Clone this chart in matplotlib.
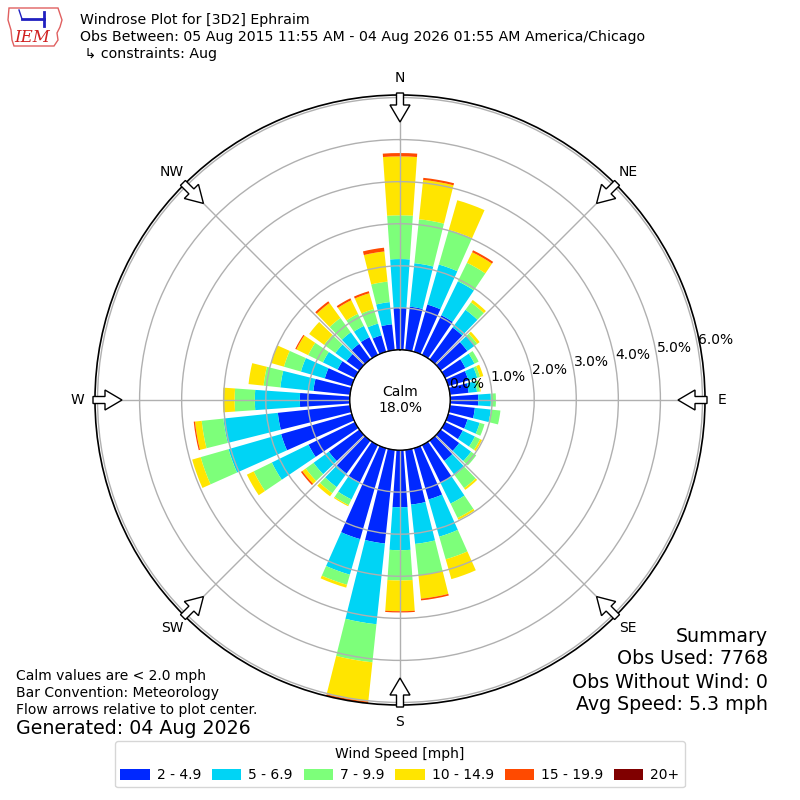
import numpy as np
import matplotlib
matplotlib.use("Agg")
import matplotlib.pyplot as plt
from matplotlib.patches import FancyArrow, Polygon, Patch

# wind direction bins (deg, meteorological) and % frequency per speed bin
directions = np.arange(0, 360, 10)
spd_2_5 = [1.00, 1.04, 1.17, 1.05, 0.94, 0.79, 0.54, 0.50, 0.45, 0.67, 0.60, 0.48,
           0.47, 0.55, 0.60, 1.00, 1.27, 1.31, 1.36, 2.24, 2.25, 0.99, 0.97, 0.90,
           1.23, 1.75, 1.73, 1.19, 0.88, 0.67, 0.46, 0.38, 0.46, 0.47, 0.41, 0.62]
spd_5_7 = [1.16, 1.04, 0.99, 0.90, 0.52, 0.21, 0.24, 0.22, 0.20, 0.30, 0.38, 0.30,
           0.32, 0.35, 0.42, 0.55, 0.92, 0.94, 1.02, 1.93, 0.88, 0.45, 0.40, 0.45,
           0.97, 1.30, 1.30, 1.07, 0.79, 0.59, 0.39, 0.33, 0.34, 0.30, 0.29, 0.53]
spd_7_10 = [1.04, 1.05, 0.86, 0.49, 0.22, 0.08, 0.11, 0.07, 0.07, 0.12, 0.23, 0.12,
            0.14, 0.15, 0.38, 0.38, 0.56, 0.75, 0.72, 0.91, 0.25, 0.15, 0.18, 0.23,
            0.48, 0.69, 0.52, 0.48, 0.40, 0.42, 0.39, 0.33, 0.42, 0.32, 0.36, 0.49]
spd_10_15 = [1.40, 0.94, 0.73, 0.28, 0.07, 0.07, 0.00, 0.08, 0.02, 0.00, 0.00, 0.00,
             0.05, 0.00, 0.05, 0.05, 0.49, 0.56, 0.73, 0.94, 0.07, 0.03, 0.09, 0.10,
             0.18, 0.21, 0.16, 0.28, 0.36, 0.32, 0.31, 0.44, 0.44, 0.36, 0.39, 0.72]
spd_15_20 = [0.08, 0.05, 0.00, 0.05, 0.00, 0.00, 0.00, 0.00, 0.00, 0.00, 0.00, 0.00,
             0.00, 0.00, 0.00, 0.00, 0.00, 0.04, 0.03, 0.04, 0.00, 0.00, 0.00, 0.04,
             0.00, 0.00, 0.03, 0.00, 0.00, 0.00, 0.03, 0.00, 0.05, 0.05, 0.05, 0.09]
spd_20p = [0.0] * 36

speed_bins = [spd_2_5, spd_5_7, spd_7_10, spd_10_15, spd_15_20, spd_20p]
bin_labels = ["2 - 4.9", "5 - 6.9", "7 - 9.9", "10 - 14.9", "15 - 19.9", "20+"]
bin_colors = ["#0028ff", "#00d4f5", "#7dff7a", "#ffe500", "#ff4a00", "#800000"]
calm_pct = 18.0

fig = plt.figure(figsize=(8, 8), dpi=100)
ax = fig.add_axes([95 / 800, 95 / 800, 610 / 800, 610 / 800], projection="polar")
ax.set_theta_zero_location("N")
ax.set_theta_direction(-1)

theta = np.radians(directions)
bottom = np.zeros(36)
for vals, col in zip(speed_bins, bin_colors):
    vals = np.array(vals)
    ax.bar(theta, vals, width=np.radians(8), bottom=bottom, color=col,
           edgecolor="none", linewidth=0)
    bottom += vals

rmax = bottom.max()
ax.set_rorigin(-1.19)
ax.set_ylim(0, rmax)
ax.set_yticks(range(0, 7))
ax.set_yticklabels(["%.1f%%" % v for v in range(0, 7)], fontsize=10)
ax.set_rlabel_position(80)
ax.set_thetagrids(range(0, 360, 45), ["N", "NE", "E", "SE", "S", "SW", "W", "NW"],
                  fontsize=10)
ax.tick_params(axis="x", pad=2)
ax.grid(color="#b0b0b0", linewidth=1)
ax.spines["polar"].set_linewidth(1.2)
ax.spines["inner"].set_visible(False)

# calm circle
tt = np.linspace(0, 2 * np.pi, 361)
ax.plot(tt, np.zeros_like(tt), color="black", linewidth=1.2)
ax.text(0.5, 0.5, "Calm\n%.1f%%" % calm_pct, transform=ax.transAxes,
        ha="center", va="center", fontsize=10)

# flow arrows at the compass points
for a in range(0, 360, 45):
    ar = np.radians(a)
    ux, uy = np.sin(ar), np.cos(ar)
    r0 = 307 / 800
    length = 29 / 800
    fig.add_artist(FancyArrow(0.5 + r0 * ux, 0.5 + r0 * uy, -length * ux, -length * uy,
                              width=7 / 800, head_width=20 / 800, head_length=17 / 800,
                              length_includes_head=True, transform=fig.transFigure,
                              facecolor="white", edgecolor="black", linewidth=1))

# logo
iowa = [(9, 8), (58, 8), (60, 14), (62, 20), (60, 27), (57, 33), (58, 40), (54, 46),
        (14, 46), (12, 40), (11, 30), (8, 20)]
fig.add_artist(Polygon([(x / 800, 1 - y / 800) for x, y in iowa], closed=True,
                       transform=fig.transFigure, facecolor="white",
                       edgecolor="#e06060", linewidth=1))
fig.add_artist(plt.Line2D([22 / 800, 44 / 800], [1 - 19 / 800, 1 - 19 / 800],
                          transform=fig.transFigure, color="#2020c0", linewidth=2))
fig.add_artist(plt.Line2D([44 / 800, 44 / 800], [1 - 12 / 800, 1 - 26 / 800],
                          transform=fig.transFigure, color="#2020c0", linewidth=2))
fig.add_artist(plt.Line2D([19 / 800, 22 / 800], [1 - 10 / 800, 1 - 19 / 800],
                          transform=fig.transFigure, color="#2020c0", linewidth=1))
fig.text(32 / 800, 1 - 38 / 800, "IEM", color="#d02020", fontsize=12,
         family="DejaVu Serif", style="italic", ha="center", va="center")

# header
fig.text(80 / 800, 1 - 20 / 800, "Windrose Plot for [3D2] Ephraim", fontsize=10.2,
         va="center")
fig.text(80 / 800, 1 - 37 / 800,
         "Obs Between: 05 Aug 2015 11:55 AM - 04 Aug 2026 01:55 AM America/Chicago",
         fontsize=10.2, va="center")
fig.text(80 / 800, 1 - 54 / 800, " \u21b3 constraints: Aug", fontsize=10.2, va="center")

# footer notes
fig.text(16 / 800, 1 - 676 / 800, "Calm values are < 2.0 mph", fontsize=10, va="center")
fig.text(16 / 800, 1 - 693 / 800, "Bar Convention: Meteorology", fontsize=10, va="center")
fig.text(16 / 800, 1 - 710 / 800, "Flow arrows relative to plot center.", fontsize=10,
         va="center")
fig.text(16 / 800, 1 - 729 / 800, "Generated: 04 Aug 2026", fontsize=13.7, va="center")

summary = ["Summary", "Obs Used: 7768", "Obs Without Wind: 0", "Avg Speed: 5.3 mph"]
for i, s in enumerate(summary):
    fig.text(768 / 800, 1 - (636 + 23 * i) / 800, s, fontsize=13.7, ha="right",
             va="center")

handles = [Patch(facecolor=c, edgecolor="none") for c in bin_colors]
fig.legend(handles, bin_labels, loc="lower center", bbox_to_anchor=(0.5, 0.007),
           ncol=6, fontsize=10, title="Wind Speed [mph]", title_fontsize=10,
           handlelength=2.1, handleheight=0.85, columnspacing=0.8, handletextpad=0.5,
           frameon=True, edgecolor="#cccccc")

fig.savefig("out.png", dpi=100)
